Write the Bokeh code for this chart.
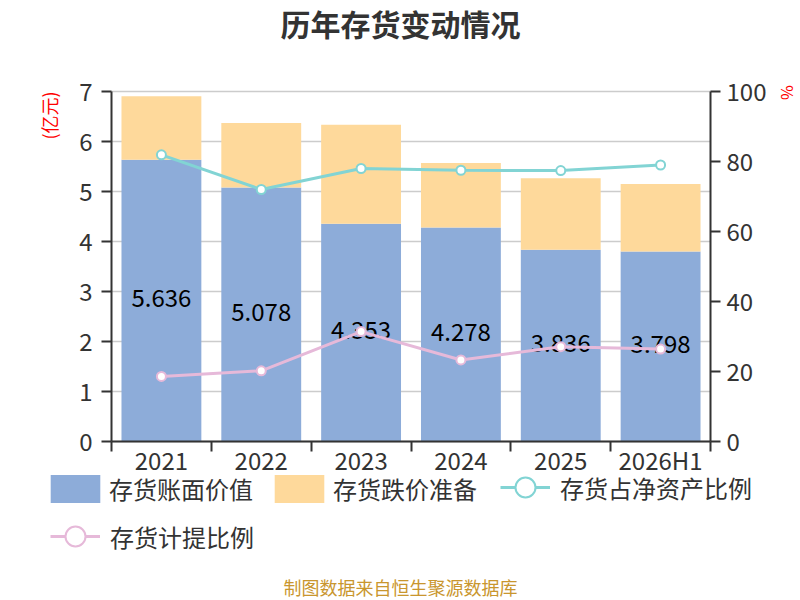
import numpy as np
from bokeh.plotting import figure
from bokeh.models import (Range1d, LinearAxis, FixedTicker, ColumnDataSource,
                          Legend, LegendItem, Label)
from bokeh.embed import file_html
from bokeh.resources import INLINE
from bokeh.core.properties import value

categories = ["2021", "2022", "2023", "2024", "2025", "2026H1"]
book_value = [5.636, 5.078, 4.353, 4.278, 3.836, 3.798]
impairment = [1.27, 1.29, 1.98, 1.29, 1.43, 1.35]
net_asset_ratio = [81.9, 72.0, 78.0, 77.5, 77.4, 79.0]
provision_ratio = [18.6, 20.2, 31.4, 23.3, 27.1, 26.4]
left_ticks = [0, 1, 2, 3, 4, 5, 6, 7]
right_ticks = [0, 20, 40, 60, 80, 100]

FONT = "Noto Sans CJK SC"
BLUE = "#8dacd9"
ORANGE = "#fed99b"
CYAN = "#82d4d4"
PINK = "#e6b9d9"
DARK = "#333333"

# canvas / plot-area geometry (pixels)
W, H = 800, 600
AX_L, AX_R, AX_T, AX_B = 111, 710, 91, 441
n = len(categories)
LMAX, RMAX = left_ticks[-1], right_ticks[-1]
px_x = (AX_R - AX_L) / n
px_y = (AX_B - AX_T) / LMAX
px_r = (AX_B - AX_T) / RMAX

xs = np.arange(n) + 0.5
src = ColumnDataSource(dict(
    x=xs,
    book=book_value,
    imp=impairment,
    mid=np.array(book_value) / 2.0,
    lbl=[f"{v:.3f}" for v in book_value],
    r1=net_asset_ratio,
    r2=provision_ratio,
))

p = figure(frame_width=W, frame_height=H,
           min_border_left=0, min_border_right=0,
           min_border_top=0, min_border_bottom=0,
           x_range=Range1d(-AX_L / px_x, n + (W - AX_R) / px_x),
           y_range=Range1d(-(H - AX_B) / px_y, LMAX + AX_T / px_y),
           output_backend="svg", toolbar_location=None, title_location=None)
p.extra_y_ranges = {"pct": Range1d(-(H - AX_B) / px_r, RMAX + AX_T / px_r)}
p.outline_line_alpha = 0
p.background_fill_color = "white"
p.border_fill_color = "white"
p.xgrid.visible = False
p.ygrid.visible = False

# horizontal grid lines at the left-axis ticks
p.segment(x0=0, x1=n, y0=left_ticks, y1=left_ticks, line_color="#cccccc",
          line_width=1.5, level="underlay")

bars = p.vbar_stack(["book", "imp"], x="x", width=0.8, color=[BLUE, ORANGE],
                    line_alpha=0, source=src)

p.text(x="x", y="mid", text="lbl", source=src, text_align="center",
       text_baseline="middle", text_font=value(FONT), text_font_size="24px",
       text_color="black", y_offset=-3)

l1 = p.line(x="x", y="r1", source=src, y_range_name="pct", color=CYAN, line_width=3)
s1 = p.scatter(x="x", y="r1", source=src, y_range_name="pct", size=9,
               fill_color="white", line_color=CYAN, line_width=2)
l2 = p.line(x="x", y="r2", source=src, y_range_name="pct", color=PINK, line_width=3)
s2 = p.scatter(x="x", y="r2", source=src, y_range_name="pct", size=9,
               fill_color="white", line_color=PINK, line_width=2)

def style_axis(ax):
    ax.axis_line_color = DARK
    ax.axis_line_width = 2
    ax.major_label_text_font = FONT
    ax.major_label_text_font_size = "24px"
    ax.major_label_text_color = DARK

# x axis
xa = p.xaxis[0]
style_axis(xa)
xa.fixed_location = 0
xa.bounds = (0, n)
xa.ticker = FixedTicker(ticks=list(xs), minor_ticks=list(range(n + 1)))
xa.major_label_overrides = {float(v): c for v, c in zip(xs, categories)}
xa.major_tick_out = 0
xa.major_tick_in = 0
xa.major_tick_line_alpha = 0
xa.minor_tick_out = 10
xa.minor_tick_in = 0
xa.minor_tick_line_color = DARK
xa.minor_tick_line_width = 2
xa.major_label_standoff = -10

ya = p.yaxis[0]
style_axis(ya)
ya.fixed_location = 0
ya.bounds = (0, LMAX)
ya.ticker = FixedTicker(ticks=left_ticks)
ya.minor_tick_line_alpha = 0
ya.major_tick_out = 10
ya.major_tick_in = 0
ya.major_tick_line_color = DARK
ya.major_tick_line_width = 2
ya.major_label_standoff = 9

ra = LinearAxis(y_range_name="pct", ticker=FixedTicker(ticks=right_ticks))
style_axis(ra)
ra.fixed_location = n
ra.bounds = (0, RMAX)
ra.minor_tick_line_alpha = 0
ra.major_tick_out = 10
ra.major_tick_in = 0
ra.major_tick_line_color = DARK
ra.major_tick_line_width = 2
ra.major_label_standoff = 6
p.add_layout(ra, "right")

# legends (screen units measured from the bottom-left corner)
common = dict(orientation="horizontal", padding=0, margin=0,
              border_line_alpha=0, background_fill_alpha=0,
              label_text_font=FONT, label_text_font_size="24px",
              label_text_color=DARK)
p.add_layout(Legend(items=[
    LegendItem(label="存货账面价值", renderers=[bars[0]]),
    LegendItem(label="存货跌价准备", renderers=[bars[1]]),
], location=(44, 94), glyph_width=62, glyph_height=35, label_standoff=3,
    spacing=15, **common), "center")
p.add_layout(Legend(items=[
    LegendItem(label="存货占净资产比例", renderers=[l1, s1]),
], location=(500, 88), glyph_width=50, glyph_height=50, label_standoff=10,
    **common), "center")
p.add_layout(Legend(items=[
    LegendItem(label="存货计提比例", renderers=[l2, s2]),
], location=(50, 39), glyph_width=50, glyph_height=50, label_standoff=10,
    **common), "center")

# texts
def label(text, x, y, size, color, angle=0.0, bold=False):
    p.add_layout(Label(x=x, y=H - y, x_units="screen", y_units="screen",
                       text=text, text_font=FONT, text_font_size=size,
                       text_font_style="bold" if bold else "normal",
                       angle=angle, text_align="center", text_baseline="middle",
                       text_color=color))

label("历年存货变动情况", 400, 22, "30px", DARK, bold=True)
label("(亿元)", 48, 115, "18px", "red", angle=np.pi / 2)
label("%", 787, 92, "16px", "red", angle=-np.pi / 2)
label("制图数据来自恒生聚源数据库", 400, 586, "18px", "#c9962e")

open("out.html", "w").write(file_html(p, INLINE))
